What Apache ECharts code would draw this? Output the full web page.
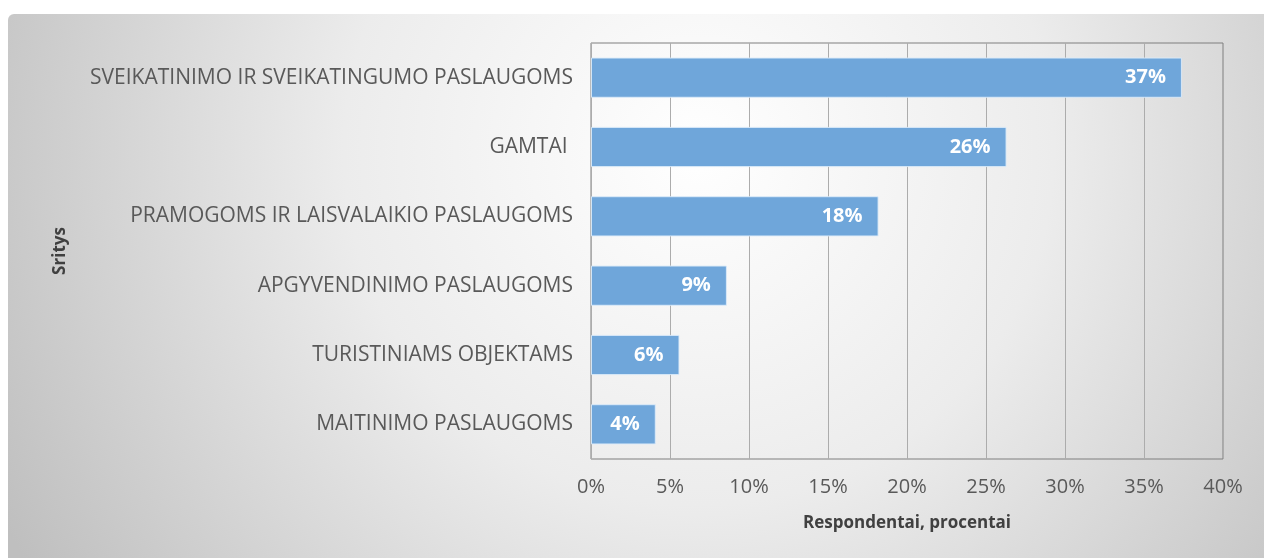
<!DOCTYPE html>
<html>
<head>
<meta charset="utf-8">
<script src="https://cdn.jsdelivr.net/npm/echarts@6/dist/echarts.min.js"></script>
<style>
  html, body { margin: 0; padding: 0; background: #ffffff; }
  #chart { width: 1264px; height: 558px; }
</style>
</head>
<body>
<div id="chart"></div>
<script>
// sritys, iš viršaus į apačią
const categories = [
  'SVEIKATINIMO IR SVEIKATINGUMO PASLAUGOMS',
  'GAMTAI ',
  'PRAMOGOMS IR LAISVALAIKIO PASLAUGOMS',
  'APGYVENDINIMO PASLAUGOMS',
  'TURISTINIAMS OBJEKTAMS',
  'MAITINIMO PASLAUGOMS'
]
// respondentų dalis, %
const values = [37.4, 26.3, 18.2, 8.6, 5.6, 4.1]
const xTicks = [0, 5, 10, 15, 20, 25, 30, 35, 40]

const font = '"Open Sans", "Liberation Sans", sans-serif'
const myChart = echarts.init(document.getElementById('chart'))

const chartOption = {
  animation: false,
  textStyle: { fontFamily: font },
  graphic: [{
    type: 'rect',
    silent: true,
    z: -10,
    shape: { x: 8, y: 14, width: 1256, height: 544, r: [6, 0, 0, 0] },
    style: {
      fill: new echarts.graphic.RadialGradient(0.55, 0.25, 1.45, [
        { offset: 0, color: '#ffffff' },
        { offset: 0.45, color: '#ececec' },
        { offset: 1, color: '#bfbfbf' }
      ])
    }
  }],
  grid: {
    left: 591,
    top: 43,
    right: 41,
    bottom: 99,
    show: true,
    borderColor: '#7f7f7f',
    borderWidth: 1,
    backgroundColor: 'transparent'
  },
  xAxis: {
    type: 'value',
    min: xTicks[0],
    max: xTicks[xTicks.length - 1],
    interval: 5,
    name: 'Respondentai, procentai',
    nameLocation: 'middle',
    nameGap: 56,
    nameTextStyle: { fontSize: 17, fontWeight: 'bold', color: '#404040', verticalAlign: 'top' },
    axisLine: { show: false },
    axisTick: { show: false },
    axisLabel: {
      fontSize: 20,
      color: '#595959',
      margin: 18,
      formatter: v => v + '%'
    },
    splitLine: { show: true, lineStyle: { color: '#acacac', width: 1 } }
  },
  yAxis: {
    type: 'category',
    inverse: true,
    data: categories,
    name: 'Sritys',
    nameLocation: 'middle',
    nameRotate: 90,
    nameGap: 522,
    nameTextStyle: { fontSize: 17, fontWeight: 'bold', color: '#404040' },
    axisLine: { show: false },
    axisTick: { show: false },
    axisLabel: { fontSize: 21, color: '#595959', margin: 18 }
  },
  series: [{
    type: 'bar',
    data: values,
    barWidth: '58%',
    itemStyle: {
      color: '#6fa6da',
      borderColor: 'rgba(220,235,250,0.9)',
      borderWidth: 1
    },
    label: {
      show: true,
      position: 'insideRight',
      distance: 16,
      color: '#ffffff',
      fontSize: 20,
      fontWeight: 'bold',
      formatter: (params) => `${Math.round(params.value)}%`
    }
  }]
}

myChart.setOption(chartOption)
</script>
</body>
</html>
